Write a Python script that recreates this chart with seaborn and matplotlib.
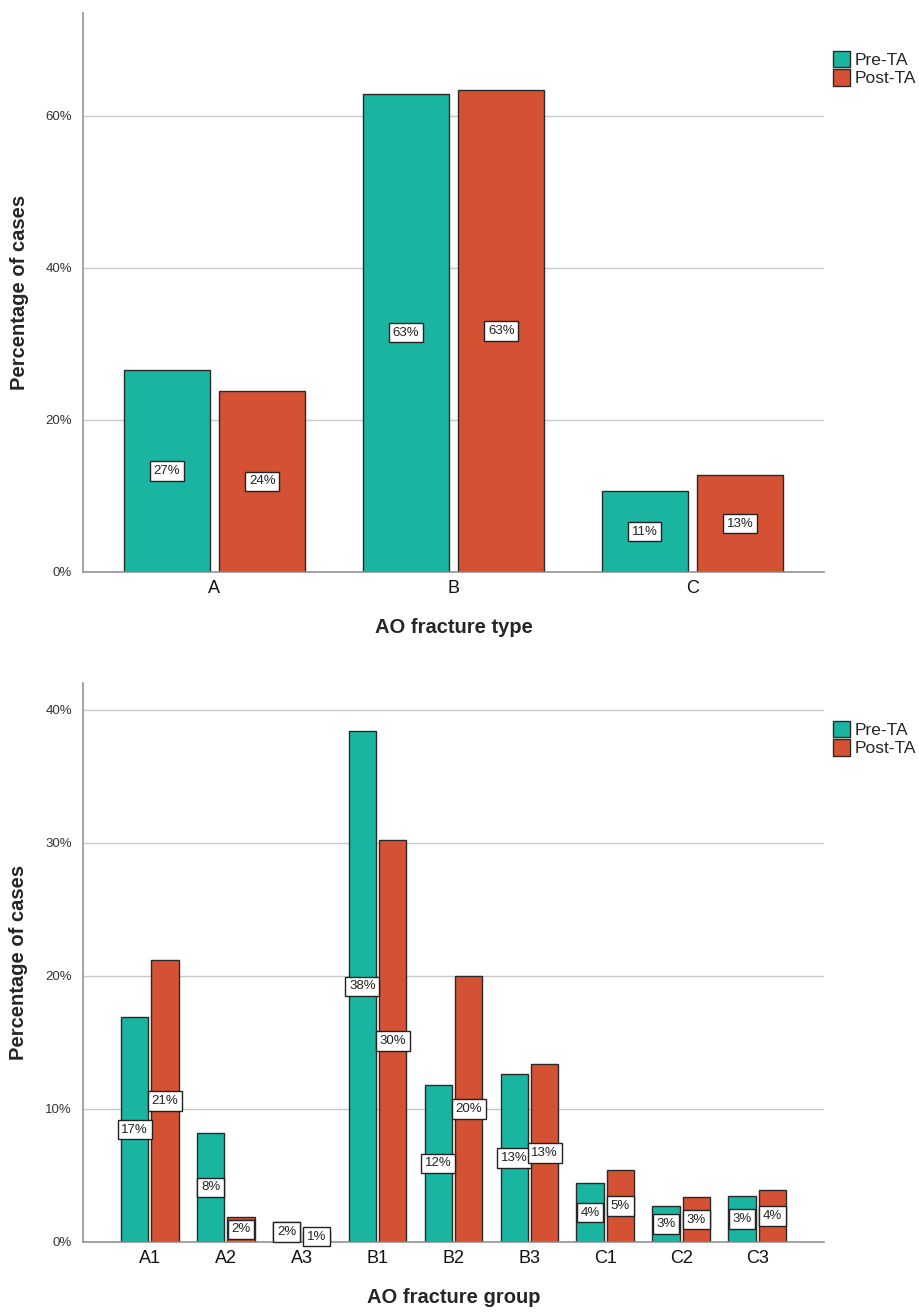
"""AO fracture type / group, pre vs post TA."""
import matplotlib
matplotlib.use("Agg")
import matplotlib.pyplot as plt
import pandas as pd
import seaborn as sns
from matplotlib.patches import Patch
from matplotlib.ticker import PercentFormatter

sns.set_theme(style="white")
plt.rcParams["font.family"] = ["Liberation Sans", "DejaVu Sans"]

# --- data -------------------------------------------------------------
types = ["A", "B", "C"]
type_pre = [26.6, 62.9, 10.6]
type_post = [23.8, 63.4, 12.7]

groups = ["A1", "A2", "A3", "B1", "B2", "B3", "C1", "C2", "C3"]
group_pre = [16.9, 8.2, 1.5, 38.4, 11.8, 12.6, 4.4, 2.7, 3.45]
group_post = [21.2, 1.9, 0.8, 30.2, 20.0, 13.35, 5.4, 3.35, 3.9]

periods = ["Pre-TA", "Post-TA"]
COLORS = {"Pre-TA": "#1ab5a0", "Post-TA": "#d45133"}


def long_df(cats, pre, post, name):
    return pd.DataFrame({
        name: cats * 2,
        "pct": pre + post,
        "period": ["Pre-TA"] * len(cats) + ["Post-TA"] * len(cats),
    })


def draw(ax, df, name, ymax, yticks, xlim, xlabel):
    sns.barplot(data=df, x=name, y="pct", hue="period", hue_order=periods,
                palette=COLORS, width=0.8, gap=0.1, edgecolor="#2a2a2a",
                linewidth=1.0, saturation=1, ax=ax, legend=False)
    for cont in ax.containers:
        vals = [b.get_height() for b in cont]
        ax.bar_label(cont, labels=[f"{round(v)}%" for v in vals],
                     label_type="center", fontsize=9.5, color="#222222",
                     bbox=dict(boxstyle="square,pad=0.28", fc="white",
                               ec="#222222", lw=1.0))
    ax.set_ylim(0, ymax)
    ax.set_xlim(*xlim)
    ax.set_yticks(yticks)
    ax.yaxis.set_major_formatter(PercentFormatter(decimals=0))
    ax.yaxis.grid(True, color="#c8c8c8", lw=1)
    ax.set_axisbelow(True)
    for s in ["top", "right"]:
        ax.spines[s].set_visible(False)
    for s in ["left", "bottom"]:
        ax.spines[s].set_color("#8a8a8a")
        ax.spines[s].set_linewidth(1.1)
    ax.tick_params(axis="y", length=0, labelsize=9.5, labelcolor="#333333", pad=8)
    ax.tick_params(axis="x", length=0, labelsize=13, labelcolor="#111111", pad=6)
    ax.set_ylabel("Percentage of cases", fontsize=14.5, fontweight="bold", labelpad=12)
    ax.set_xlabel(xlabel, fontsize=14.5, fontweight="bold", labelpad=15)
    handles = [Patch(fc=COLORS[p], ec="#2a2a2a", lw=1.0, label=p) for p in periods]
    ax.legend(handles=handles, loc="upper left", bbox_to_anchor=(1.0, 0.948),
              frameon=False, fontsize=12.5, handlelength=1.0, handleheight=1.1,
              handletextpad=0.25, labelspacing=0.05, borderaxespad=0.1)


fig = plt.figure(figsize=(9.19, 13.14), dpi=100)
ax1 = fig.add_axes([0.0903, 0.5647, 0.8063, 0.4254])
ax2 = fig.add_axes([0.0903, 0.0548, 0.8063, 0.4254])

draw(ax1, long_df(types, type_pre, type_post, "type"), "type", 73.5,
     [0, 20, 40, 60], (-0.55, 2.55), "AO fracture type")
draw(ax2, long_df(groups, group_pre, group_post, "group"), "group", 42.0,
     [0, 10, 20, 30, 40], (-0.88, 8.88), "AO fracture group")

fig.savefig("out.png", dpi=100)
plt.close(fig)
